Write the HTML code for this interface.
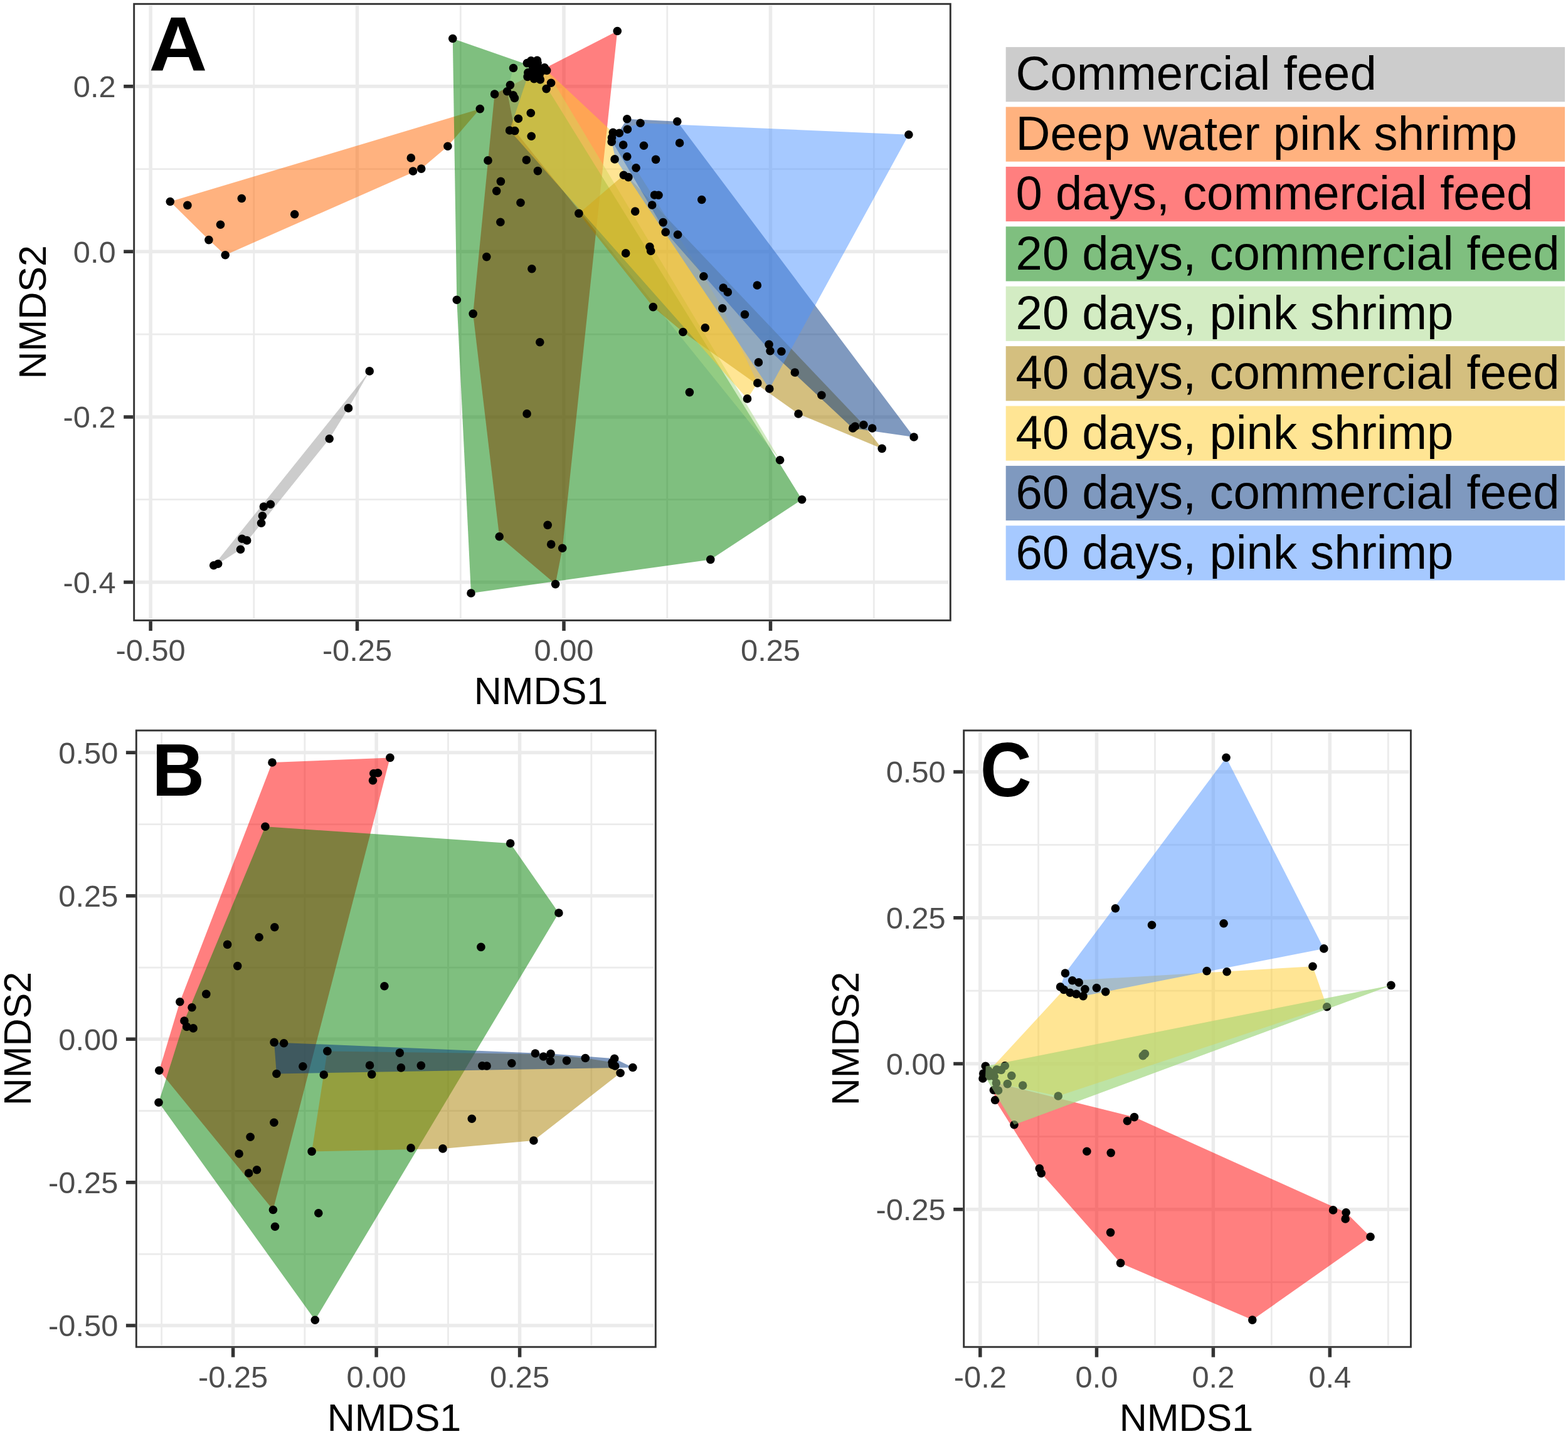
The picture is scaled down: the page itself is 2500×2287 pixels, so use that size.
<!DOCTYPE html>
<html lang="en"><head><meta charset="utf-8"><title>NMDS ordination plots</title>
<style>html,body{margin:0;padding:0;background:#fff}svg{display:block}text{font-family:"Liberation Sans",Arial,Helvetica,sans-serif}.tk{font-size:48.8px;fill:#4D4D4D}.ax{font-size:61px;fill:#000}.lg{font-size:76.1px;fill:#000}.pl{font-size:118px;font-weight:bold;fill:#000}</style></head><body>
<svg xmlns="http://www.w3.org/2000/svg" width="2500" height="2287" viewBox="0 0 2500 2287">
<rect x="0" y="0" width="2500" height="2287" fill="#ffffff"/>
<g id="panelA">
<clipPath id="clipA"><rect x="213.7" y="6.3" width="1301.6" height="983.1"/></clipPath>
<g clip-path="url(#clipA)">
<path d="M404.8 9.1V986.6M734.3 9.1V986.6M1063.8 9.1V986.6M1393.3 9.1V986.6M216.4 269.6H1512.5M216.4 533.1H1512.5M216.4 796.6H1512.5" stroke="#EBEBEB" stroke-width="2.75" fill="none"/>
<path d="M240.1 9.1V986.6M569.5 9.1V986.6M899 9.1V986.6M1228.5 9.1V986.6M216.4 137.8H1512.5M216.4 401.3H1512.5M216.4 664.9H1512.5M216.4 928.4H1512.5" stroke="#EBEBEB" stroke-width="5.5" fill="none"/>
<polygon points="340.7,901.8 589.2,591.9 555.5,650.9 525.2,699.7 383.5,876.3 347.6,899.2" fill="#999999" fill-opacity="0.5"/>
<polygon points="271.3,321.5 765.3,173.6 713.9,233.2 671.7,269.1 359.2,406.7 332.9,382.6" fill="#FF6600" fill-opacity="0.5"/>
<polygon points="754.2,500.4 788.6,150.1 984.3,49.5 896.7,874.3 885.6,931.6 796.2,855.7" fill="#FF0000" fill-opacity="0.5"/>
<polygon points="721.8,61.5 849.4,106.1 859.9,120 1278.6,796.7 1132.8,892.4 751,946 728.3,478.3" fill="#008000" fill-opacity="0.5"/>
<polygon points="808.6,145.7 818.5,108.5 840.4,100.6 856.4,96.4 871.7,112.4 1243.6,733.8 820.8,208.6" fill="#A7D987" fill-opacity="0.5"/>
<polygon points="922.9,340.4 994.4,279.3 1001.9,282.6 1376.9,677.5 1406.2,715.4 1273,660 1088.9,529.5 1041.3,489.6" fill="#AA8000" fill-opacity="0.5"/>
<polygon points="812.6,208 841.1,122.4 871.7,112.4 977.4,211.4 1121.9,440.8 1151.8,491.7 1207.8,610.9 1191.5,635.9" fill="#FFCC29" fill-opacity="0.5"/>
<polygon points="976.5,226.3 999.8,189.8 1079.8,193.7 1457.1,697 1359.7,683 1228,559.7 1061.1,370.1" fill="#003380" fill-opacity="0.5"/>
<polygon points="975.2,226.3 975.5,219.6 977.4,211.4 1021,196.2 1448.9,214.7 1226.8,620 981.5,253.9" fill="#4D94FF" fill-opacity="0.5"/>
<g fill="#000">
<circle cx="589.2" cy="591.9" r="6.8"/>
<circle cx="555.5" cy="650.9" r="6.8"/>
<circle cx="525.2" cy="699.7" r="6.8"/>
<circle cx="431.3" cy="804.3" r="6.8"/>
<circle cx="420.4" cy="808.1" r="6.8"/>
<circle cx="418.4" cy="822.7" r="6.8"/>
<circle cx="416.6" cy="834.2" r="6.8"/>
<circle cx="385.9" cy="859.3" r="6.8"/>
<circle cx="393.7" cy="861.9" r="6.8"/>
<circle cx="383.5" cy="876.3" r="6.8"/>
<circle cx="347.6" cy="899.2" r="6.8"/>
<circle cx="340.7" cy="901.8" r="6.8"/>
<circle cx="271.3" cy="321.5" r="6.8"/>
<circle cx="298.9" cy="327.4" r="6.8"/>
<circle cx="385.3" cy="316.5" r="6.8"/>
<circle cx="351.5" cy="358.2" r="6.8"/>
<circle cx="332.9" cy="382.6" r="6.8"/>
<circle cx="359.2" cy="406.7" r="6.8"/>
<circle cx="469.7" cy="341.8" r="6.8"/>
<circle cx="655.3" cy="251.9" r="6.8"/>
<circle cx="658.5" cy="273" r="6.8"/>
<circle cx="671.7" cy="269.1" r="6.8"/>
<circle cx="713.9" cy="233.2" r="6.8"/>
<circle cx="765.3" cy="173.6" r="6.8"/>
<circle cx="840.4" cy="100.6" r="6.8"/>
<circle cx="846.7" cy="96.7" r="6.8"/>
<circle cx="856.4" cy="96.4" r="6.8"/>
<circle cx="857.1" cy="100.6" r="6.8"/>
<circle cx="841.8" cy="115.8" r="6.8"/>
<circle cx="841.1" cy="122.4" r="6.8"/>
<circle cx="851.5" cy="125.6" r="6.8"/>
<circle cx="861.3" cy="126.9" r="6.8"/>
<circle cx="868.2" cy="107.8" r="6.8"/>
<circle cx="871.7" cy="112.4" r="6.8"/>
<circle cx="849.4" cy="106.1" r="6.8"/>
<circle cx="852.9" cy="115.1" r="6.8"/>
<circle cx="859.9" cy="120" r="6.8"/>
<circle cx="859.9" cy="108.9" r="6.8"/>
<circle cx="849.5" cy="119" r="6.8"/>
<circle cx="863.5" cy="113.5" r="6.8"/>
<circle cx="721.8" cy="61.5" r="6.8"/>
<circle cx="984.3" cy="49.5" r="6.8"/>
<circle cx="818.5" cy="108.5" r="6.8"/>
<circle cx="878.6" cy="132.3" r="6.8"/>
<circle cx="871.1" cy="141.6" r="6.8"/>
<circle cx="813.4" cy="135.6" r="6.8"/>
<circle cx="808.6" cy="145.7" r="6.8"/>
<circle cx="818.2" cy="151.8" r="6.8"/>
<circle cx="820.4" cy="156.4" r="6.8"/>
<circle cx="788.6" cy="150.1" r="6.8"/>
<circle cx="846.3" cy="180.2" r="6.8"/>
<circle cx="826.4" cy="189.3" r="6.8"/>
<circle cx="812.6" cy="208" r="6.8"/>
<circle cx="820.8" cy="208.6" r="6.8"/>
<circle cx="847.2" cy="217.3" r="6.8"/>
<circle cx="778" cy="255.9" r="6.8"/>
<circle cx="839.3" cy="255.1" r="6.8"/>
<circle cx="857.4" cy="272.6" r="6.8"/>
<circle cx="798.4" cy="289.4" r="6.8"/>
<circle cx="791.7" cy="304.6" r="6.8"/>
<circle cx="830" cy="323.3" r="6.8"/>
<circle cx="797.9" cy="354.2" r="6.8"/>
<circle cx="922.9" cy="340.4" r="6.8"/>
<circle cx="775.8" cy="409.6" r="6.8"/>
<circle cx="847.9" cy="428.8" r="6.8"/>
<circle cx="728.3" cy="478.3" r="6.8"/>
<circle cx="754.2" cy="500.4" r="6.8"/>
<circle cx="860.8" cy="545.8" r="6.8"/>
<circle cx="999.8" cy="189.8" r="6.8"/>
<circle cx="1021" cy="196.2" r="6.8"/>
<circle cx="1079.8" cy="193.7" r="6.8"/>
<circle cx="1000.4" cy="206.2" r="6.8"/>
<circle cx="977.4" cy="211.4" r="6.8"/>
<circle cx="987.4" cy="212.2" r="6.8"/>
<circle cx="975.5" cy="219.6" r="6.8"/>
<circle cx="975.2" cy="226.3" r="6.8"/>
<circle cx="993.7" cy="231.1" r="6.8"/>
<circle cx="1026.5" cy="232.3" r="6.8"/>
<circle cx="1083.6" cy="228" r="6.8"/>
<circle cx="980.1" cy="253.9" r="6.8"/>
<circle cx="999.8" cy="249.8" r="6.8"/>
<circle cx="1045.6" cy="254.4" r="6.8"/>
<circle cx="1014.1" cy="267.8" r="6.8"/>
<circle cx="994.4" cy="279.3" r="6.8"/>
<circle cx="1001.9" cy="282.6" r="6.8"/>
<circle cx="1043.6" cy="311" r="6.8"/>
<circle cx="1050" cy="311.3" r="6.8"/>
<circle cx="1118.8" cy="318.5" r="6.8"/>
<circle cx="1039.7" cy="327" r="6.8"/>
<circle cx="1012.7" cy="337.1" r="6.8"/>
<circle cx="1057.2" cy="354.6" r="6.8"/>
<circle cx="1061.2" cy="370.2" r="6.8"/>
<circle cx="1080.6" cy="374.3" r="6.8"/>
<circle cx="1035.9" cy="393.6" r="6.8"/>
<circle cx="1037.7" cy="400.3" r="6.8"/>
<circle cx="997.7" cy="403.9" r="6.8"/>
<circle cx="1121.9" cy="440.8" r="6.8"/>
<circle cx="1153.2" cy="459" r="6.8"/>
<circle cx="1160.3" cy="465.9" r="6.8"/>
<circle cx="1207.3" cy="455" r="6.8"/>
<circle cx="1151.8" cy="491.7" r="6.8"/>
<circle cx="1187.5" cy="501.5" r="6.8"/>
<circle cx="1124.3" cy="522.8" r="6.8"/>
<circle cx="1088.9" cy="529.5" r="6.8"/>
<circle cx="1226" cy="549.4" r="6.8"/>
<circle cx="1228" cy="559.7" r="6.8"/>
<circle cx="1245.9" cy="560.5" r="6.8"/>
<circle cx="1209.4" cy="577.9" r="6.8"/>
<circle cx="1267.3" cy="594" r="6.8"/>
<circle cx="1207.8" cy="610.9" r="6.8"/>
<circle cx="1226.8" cy="620" r="6.8"/>
<circle cx="1309.9" cy="630.3" r="6.8"/>
<circle cx="1191.5" cy="635.9" r="6.8"/>
<circle cx="1099.4" cy="625.6" r="6.8"/>
<circle cx="1273" cy="660" r="6.8"/>
<circle cx="1359.7" cy="683" r="6.8"/>
<circle cx="1363.4" cy="680" r="6.8"/>
<circle cx="1376.9" cy="677.5" r="6.8"/>
<circle cx="1390.7" cy="683" r="6.8"/>
<circle cx="1457.1" cy="697" r="6.8"/>
<circle cx="1406.2" cy="715.4" r="6.8"/>
<circle cx="1243.6" cy="733.8" r="6.8"/>
<circle cx="1278.6" cy="796.7" r="6.8"/>
<circle cx="1132.8" cy="892.4" r="6.8"/>
<circle cx="1041.3" cy="489.6" r="6.8"/>
<circle cx="1448.9" cy="214.7" r="6.8"/>
<circle cx="840.1" cy="659.9" r="6.8"/>
<circle cx="873.2" cy="837.4" r="6.8"/>
<circle cx="796.2" cy="855.7" r="6.8"/>
<circle cx="878.7" cy="868.1" r="6.8"/>
<circle cx="896.7" cy="874.3" r="6.8"/>
<circle cx="885.6" cy="931.6" r="6.8"/>
<circle cx="751" cy="946" r="6.8"/>
</g>
</g>
<rect x="213.7" y="6.3" width="1301.6" height="983.1" fill="none" stroke="#333333" stroke-width="2.9"/>
<path d="M240.1 990.9V1005.9M569.5 990.9V1005.9M899 990.9V1005.9M1228.5 990.9V1005.9M197.2 137.8H212.2M197.2 401.3H212.2M197.2 664.9H212.2M197.2 928.4H212.2" stroke="#333333" stroke-width="5.5" fill="none"/>
<text class="tk" x="240.1" y="1053.9" text-anchor="middle">-0.50</text>
<text class="tk" x="569.5" y="1053.9" text-anchor="middle">-0.25</text>
<text class="tk" x="899" y="1053.9" text-anchor="middle">0.00</text>
<text class="tk" x="1228.5" y="1053.9" text-anchor="middle">0.25</text>
<text class="tk" x="184.7" y="155.1" text-anchor="end">0.2</text>
<text class="tk" x="184.7" y="418.6" text-anchor="end">0.0</text>
<text class="tk" x="184.7" y="682.2" text-anchor="end">-0.2</text>
<text class="tk" x="184.7" y="945.7" text-anchor="end">-0.4</text>
<text class="ax" x="862.5" y="1122.5" text-anchor="middle">NMDS1</text>
<text class="ax" transform="translate(72.7 497.8) rotate(-90)" text-anchor="middle">NMDS2</text>
<text class="pl" transform="translate(237.4 112.9) scale(1.09 1.03)">A</text>
</g>
<g id="panelB">
<clipPath id="clipB"><rect x="217.3" y="1165" width="828" height="983.2"/></clipPath>
<g clip-path="url(#clipB)">
<path d="M257.6 1167.8V2145.4M485.9 1167.8V2145.4M714.5 1167.8V2145.4M942.9 1167.8V2145.4M220.1 1314.5H1042.5M220.1 1543H1042.5M220.1 1771.5H1042.5M220.1 2000.1H1042.5" stroke="#EBEBEB" stroke-width="2.75" fill="none"/>
<path d="M371.6 1167.8V2145.4M600.1 1167.8V2145.4M828.6 1167.8V2145.4M220.1 1200.3H1042.5M220.1 1428.8H1042.5M220.1 1657.3H1042.5M220.1 1885.8H1042.5M220.1 2114.1H1042.5" stroke="#EBEBEB" stroke-width="5.5" fill="none"/>
<polygon points="253.8,1707.3 286.8,1597.7 434,1216 621.9,1208.4 435.4,1929.5" fill="#FF0000" fill-opacity="0.5"/>
<polygon points="253,1758.2 293.9,1628 422.9,1318.2 813.7,1345 890.9,1456 502.3,2105.2" fill="#008000" fill-opacity="0.5"/>
<polygon points="497.1,1836.4 521.9,1676.4 853.4,1681 933.3,1687.5 976.1,1694.2 989.1,1711.3 850.9,1819 706,1831.9" fill="#AA8000" fill-opacity="0.5"/>
<polygon points="437.1,1662.4 878,1680.6 979.7,1688.3 1008.9,1702.5 440.9,1712.5" fill="#003380" fill-opacity="0.5"/>
<g fill="#000">
<circle cx="434" cy="1216" r="6.8"/>
<circle cx="621.9" cy="1208.4" r="6.8"/>
<circle cx="602.5" cy="1232.7" r="6.8"/>
<circle cx="595.8" cy="1233.5" r="6.8"/>
<circle cx="594.5" cy="1244.8" r="6.8"/>
<circle cx="422.9" cy="1318.2" r="6.8"/>
<circle cx="437.8" cy="1478.8" r="6.8"/>
<circle cx="413.1" cy="1494.7" r="6.8"/>
<circle cx="362.6" cy="1506.4" r="6.8"/>
<circle cx="378.7" cy="1540.6" r="6.8"/>
<circle cx="813.7" cy="1345" r="6.8"/>
<circle cx="890.9" cy="1456" r="6.8"/>
<circle cx="766.9" cy="1510.4" r="6.8"/>
<circle cx="328.8" cy="1585.4" r="6.8"/>
<circle cx="286.8" cy="1597.7" r="6.8"/>
<circle cx="306" cy="1606.7" r="6.8"/>
<circle cx="293.9" cy="1628" r="6.8"/>
<circle cx="297.7" cy="1637.4" r="6.8"/>
<circle cx="308.1" cy="1639.9" r="6.8"/>
<circle cx="253.8" cy="1707.3" r="6.8"/>
<circle cx="253" cy="1758.2" r="6.8"/>
<circle cx="437.1" cy="1662.4" r="6.8"/>
<circle cx="452.6" cy="1663.7" r="6.8"/>
<circle cx="521.9" cy="1676.4" r="6.8"/>
<circle cx="482.9" cy="1700.8" r="6.8"/>
<circle cx="440.9" cy="1712.5" r="6.8"/>
<circle cx="516.3" cy="1714" r="6.8"/>
<circle cx="589.5" cy="1699" r="6.8"/>
<circle cx="592.7" cy="1713.4" r="6.8"/>
<circle cx="612.9" cy="1572.7" r="6.8"/>
<circle cx="436.9" cy="1790.2" r="6.8"/>
<circle cx="399.1" cy="1813.2" r="6.8"/>
<circle cx="381.1" cy="1840" r="6.8"/>
<circle cx="497.1" cy="1836.4" r="6.8"/>
<circle cx="409.5" cy="1865.8" r="6.8"/>
<circle cx="396.6" cy="1871" r="6.8"/>
<circle cx="637.3" cy="1679.1" r="6.8"/>
<circle cx="639.4" cy="1702.9" r="6.8"/>
<circle cx="671.3" cy="1699.4" r="6.8"/>
<circle cx="768.8" cy="1699.8" r="6.8"/>
<circle cx="776.1" cy="1700" r="6.8"/>
<circle cx="815.8" cy="1695.8" r="6.8"/>
<circle cx="853.4" cy="1680" r="6.8"/>
<circle cx="866.5" cy="1685" r="6.8"/>
<circle cx="878" cy="1680.6" r="6.8"/>
<circle cx="877.6" cy="1692.3" r="6.8"/>
<circle cx="903.5" cy="1691.6" r="6.8"/>
<circle cx="933.3" cy="1687.5" r="6.8"/>
<circle cx="979.7" cy="1688.3" r="6.8"/>
<circle cx="976.1" cy="1694.2" r="6.8"/>
<circle cx="976.6" cy="1698.3" r="6.8"/>
<circle cx="980.7" cy="1700" r="6.8"/>
<circle cx="1008.9" cy="1702.5" r="6.8"/>
<circle cx="989.1" cy="1711.3" r="6.8"/>
<circle cx="752.3" cy="1784.3" r="6.8"/>
<circle cx="850.9" cy="1819" r="6.8"/>
<circle cx="655.1" cy="1830.9" r="6.8"/>
<circle cx="706" cy="1831.9" r="6.8"/>
<circle cx="435.4" cy="1929.5" r="6.8"/>
<circle cx="438.5" cy="1956.2" r="6.8"/>
<circle cx="507.8" cy="1934.7" r="6.8"/>
<circle cx="502.3" cy="2105.2" r="6.8"/>
</g>
</g>
<rect x="217.3" y="1165" width="828" height="983.2" fill="none" stroke="#333333" stroke-width="2.9"/>
<path d="M371.6 2149.6V2164.6M600.1 2149.6V2164.6M828.6 2149.6V2164.6M200.9 1200.3H215.9M200.9 1428.8H215.9M200.9 1657.3H215.9M200.9 1885.8H215.9M200.9 2114.1H215.9" stroke="#333333" stroke-width="5.5" fill="none"/>
<text class="tk" x="371.6" y="2212.7" text-anchor="middle">-0.25</text>
<text class="tk" x="600.1" y="2212.7" text-anchor="middle">0.00</text>
<text class="tk" x="828.6" y="2212.7" text-anchor="middle">0.25</text>
<text class="tk" x="188.3" y="1217.6" text-anchor="end">0.50</text>
<text class="tk" x="188.3" y="1446.1" text-anchor="end">0.25</text>
<text class="tk" x="188.3" y="1674.6" text-anchor="end">0.00</text>
<text class="tk" x="188.3" y="1903.1" text-anchor="end">-0.25</text>
<text class="tk" x="188.3" y="2131.4" text-anchor="end">-0.50</text>
<text class="ax" x="628.5" y="2281.5" text-anchor="middle">NMDS1</text>
<text class="ax" transform="translate(49 1656.6) rotate(-90)" text-anchor="middle">NMDS2</text>
<text class="pl" transform="translate(242.2 1268.6) scale(0.985 1.005)">B</text>
</g>
<g id="panelC">
<clipPath id="clipC"><rect x="1536.7" y="1165" width="712.7" height="983.2"/></clipPath>
<g clip-path="url(#clipC)">
<path d="M1655.6 1167.8V2145.4M1841.5 1167.8V2145.4M2027.3 1167.8V2145.4M2213.3 1167.8V2145.4M1539.5 1347.4H2246.7M1539.5 1580.1H2246.7M1539.5 1812.6H2246.7M1539.5 2044.8H2246.7" stroke="#EBEBEB" stroke-width="2.75" fill="none"/>
<path d="M1562.8 1167.8V2145.4M1748.5 1167.8V2145.4M1934.4 1167.8V2145.4M2120.3 1167.8V2145.4M1539.5 1231H2246.7M1539.5 1463.8H2246.7M1539.5 1696.4H2246.7M1539.5 1928.8H2246.7" stroke="#EBEBEB" stroke-width="5.5" fill="none"/>
<polygon points="1584.4,1738.5 1588.4,1727.1 1808.5,1781.6 2146.1,1933.8 2185,1972.5 1996.8,2105.1 1786.6,2014.4 1660.2,1871.3 1586.6,1754.5" fill="#FF0000" fill-opacity="0.5"/>
<polygon points="1571,1717.6 1571.7,1700.6 2217.9,1571.4 1617,1793.8" fill="#A7D987" fill-opacity="0.5"/>
<polygon points="1575.7,1709 1709.7,1563.7 2093,1541.3 2115.6,1605.8 1687.2,1748 1588.4,1727.1 1577.3,1716" fill="#FFCC29" fill-opacity="0.5"/>
<polygon points="1690.6,1573.9 1698.4,1552.1 1955,1208.2 2110.8,1512.9 1727,1588.6 1706.1,1583.3 1696.2,1578.4" fill="#4D94FF" fill-opacity="0.5"/>
<g fill="#000">
<circle cx="1698.4" cy="1552.1" r="6.8"/>
<circle cx="1709.7" cy="1563.7" r="6.8"/>
<circle cx="1720.2" cy="1566.9" r="6.8"/>
<circle cx="1690.6" cy="1573.9" r="6.8"/>
<circle cx="1696.2" cy="1578.4" r="6.8"/>
<circle cx="1706.1" cy="1583.3" r="6.8"/>
<circle cx="1716" cy="1585.4" r="6.8"/>
<circle cx="1729.9" cy="1577.6" r="6.8"/>
<circle cx="1727" cy="1588.6" r="6.8"/>
<circle cx="1748.4" cy="1575.6" r="6.8"/>
<circle cx="1762.7" cy="1581.8" r="6.8"/>
<circle cx="1571.3" cy="1700.2" r="6.8"/>
<circle cx="1567.8" cy="1712.1" r="6.8"/>
<circle cx="1567" cy="1720" r="6.8"/>
<circle cx="1575.7" cy="1707.3" r="6.8"/>
<circle cx="1582.1" cy="1711.3" r="6.8"/>
<circle cx="1577.3" cy="1716" r="6.8"/>
<circle cx="1585.2" cy="1716.8" r="6.8"/>
<circle cx="1589.2" cy="1705.7" r="6.8"/>
<circle cx="1596.3" cy="1706.5" r="6.8"/>
<circle cx="1602.3" cy="1699.8" r="6.8"/>
<circle cx="1612.8" cy="1715.6" r="6.8"/>
<circle cx="1606.3" cy="1728.6" r="6.8"/>
<circle cx="1630.7" cy="1731.1" r="6.8"/>
<circle cx="1588.4" cy="1727.1" r="6.8"/>
<circle cx="1591.6" cy="1739" r="6.8"/>
<circle cx="1584.4" cy="1738.5" r="6.8"/>
<circle cx="1586.6" cy="1754.5" r="6.8"/>
<circle cx="1687.2" cy="1748" r="6.8"/>
<circle cx="1822.3" cy="1683.7" r="6.8"/>
<circle cx="1825.4" cy="1680.6" r="6.8"/>
<circle cx="1778.4" cy="1448.7" r="6.8"/>
<circle cx="1836.5" cy="1475.2" r="6.8"/>
<circle cx="1955" cy="1208.2" r="6.8"/>
<circle cx="1951.1" cy="1472.7" r="6.8"/>
<circle cx="2110.8" cy="1512.9" r="6.8"/>
<circle cx="2093" cy="1541.3" r="6.8"/>
<circle cx="1924.1" cy="1548.6" r="6.8"/>
<circle cx="1956.1" cy="1549.7" r="6.8"/>
<circle cx="2217.9" cy="1571.4" r="6.8"/>
<circle cx="2115.6" cy="1605.8" r="6.8"/>
<circle cx="1617" cy="1793.7" r="6.8"/>
<circle cx="1808.5" cy="1781.6" r="6.8"/>
<circle cx="1797.4" cy="1787.8" r="6.8"/>
<circle cx="1732.9" cy="1836.3" r="6.8"/>
<circle cx="1771.2" cy="1838.6" r="6.8"/>
<circle cx="1657.3" cy="1863.5" r="6.8"/>
<circle cx="1660.2" cy="1871.3" r="6.8"/>
<circle cx="1770.6" cy="1965.6" r="6.8"/>
<circle cx="1786.6" cy="2014.4" r="6.8"/>
<circle cx="1996.8" cy="2105.1" r="6.8"/>
<circle cx="2125.5" cy="1929.9" r="6.8"/>
<circle cx="2146.1" cy="1933.8" r="6.8"/>
<circle cx="2145.1" cy="1944" r="6.8"/>
<circle cx="2185" cy="1972.5" r="6.8"/>
</g>
<polygon points="1571,1717.6 1571.7,1700.6 2217.9,1571.4 1617,1793.8" fill="#A7D987" fill-opacity="0.5"/>
</g>
<rect x="1536.7" y="1165" width="712.7" height="983.2" fill="none" stroke="#333333" stroke-width="2.9"/>
<path d="M1562.8 2149.6V2164.6M1748.5 2149.6V2164.6M1934.4 2149.6V2164.6M2120.3 2149.6V2164.6M1520.2 1231H1535.2M1520.2 1463.8H1535.2M1520.2 1696.4H1535.2M1520.2 1928.8H1535.2" stroke="#333333" stroke-width="5.5" fill="none"/>
<text class="tk" x="1562.8" y="2212.7" text-anchor="middle">-0.2</text>
<text class="tk" x="1748.5" y="2212.7" text-anchor="middle">0.0</text>
<text class="tk" x="1934.4" y="2212.7" text-anchor="middle">0.2</text>
<text class="tk" x="2120.3" y="2212.7" text-anchor="middle">0.4</text>
<text class="tk" x="1507.7" y="1248.3" text-anchor="end">0.50</text>
<text class="tk" x="1507.7" y="1481.1" text-anchor="end">0.25</text>
<text class="tk" x="1507.7" y="1713.7" text-anchor="end">0.00</text>
<text class="tk" x="1507.7" y="1946.1" text-anchor="end">-0.25</text>
<text class="ax" x="1891.4" y="2281.5" text-anchor="middle">NMDS1</text>
<text class="ax" transform="translate(1368.6 1656.6) rotate(-90)" text-anchor="middle">NMDS2</text>
<text class="pl" transform="translate(1562.8 1269.6) scale(0.962 1.037)">C</text>
</g>
<g id="legend">
<rect x="1603.7" y="75.1" width="891.3" height="87.2" fill="#999999" fill-opacity="0.5"/>
<text class="lg" x="1619.6" y="143.3">Commercial feed</text>
<rect x="1603.7" y="170.5" width="891.3" height="87.2" fill="#FF6600" fill-opacity="0.5"/>
<text class="lg" x="1619.6" y="238.7">Deep water pink shrimp</text>
<rect x="1603.7" y="265.9" width="891.3" height="87.2" fill="#FF0000" fill-opacity="0.5"/>
<text class="lg" x="1619.6" y="334.1">0 days, commercial feed</text>
<rect x="1603.7" y="361.3" width="891.3" height="87.2" fill="#008000" fill-opacity="0.5"/>
<text class="lg" x="1619.6" y="429.5">20 days, commercial feed</text>
<rect x="1603.7" y="456.7" width="891.3" height="87.2" fill="#A7D987" fill-opacity="0.5"/>
<text class="lg" x="1619.6" y="524.9">20 days, pink shrimp</text>
<rect x="1603.7" y="552.1" width="891.3" height="87.2" fill="#AA8000" fill-opacity="0.5"/>
<text class="lg" x="1619.6" y="620.3">40 days, commercial feed</text>
<rect x="1603.7" y="647.5" width="891.3" height="87.2" fill="#FFCC29" fill-opacity="0.5"/>
<text class="lg" x="1619.6" y="715.7">40 days, pink shrimp</text>
<rect x="1603.7" y="742.9" width="891.3" height="87.2" fill="#003380" fill-opacity="0.5"/>
<text class="lg" x="1619.6" y="811.1">60 days, commercial feed</text>
<rect x="1603.7" y="838.3" width="891.3" height="87.2" fill="#4D94FF" fill-opacity="0.5"/>
<text class="lg" x="1619.6" y="906.5">60 days, pink shrimp</text>
</g>
</svg></body></html>
